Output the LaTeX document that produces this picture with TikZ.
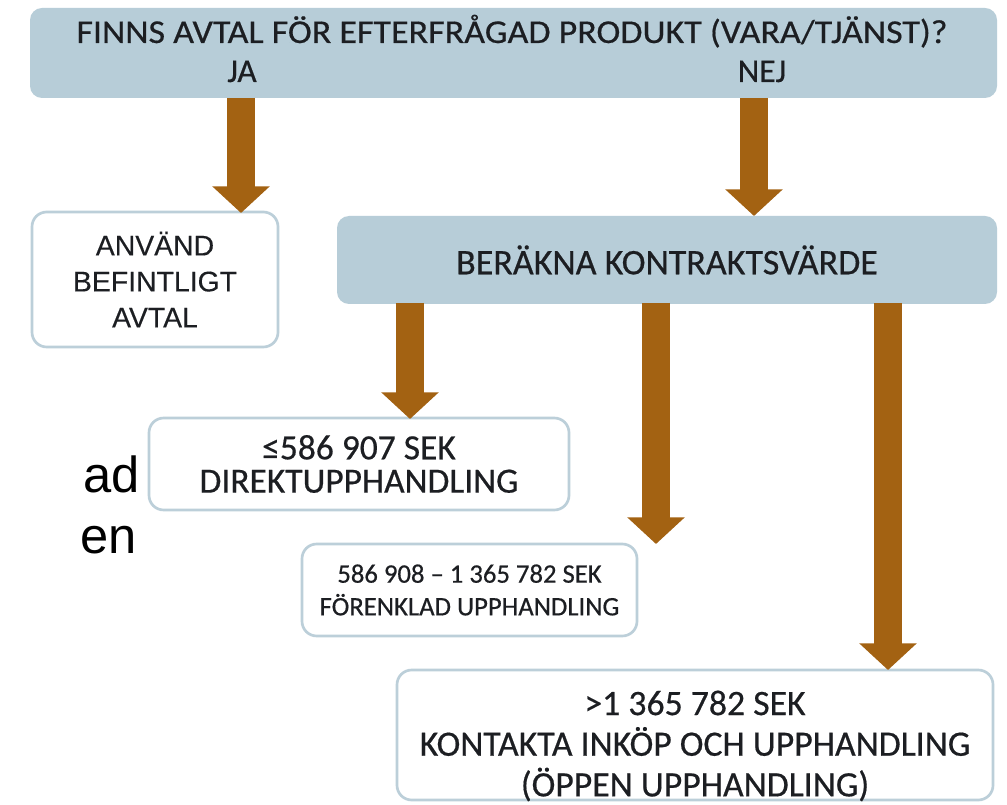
\documentclass[tikz,border=0pt]{standalone}
\usepackage{fontspec}
\setmainfont{Carlito}
\newfontfamily\calfont[FakeBold=0.5]{Carlito}
\newfontfamily\arialf[FakeBold=0.3]{Liberation Sans}
\newfontfamily\arialplain{Liberation Sans}
\usetikzlibrary{arrows.meta}
\definecolor{boxblue}{RGB}{183,205,216}
\definecolor{boxedge}{RGB}{188,207,217}
\definecolor{arrowbrown}{RGB}{163,98,18}
\definecolor{txt}{RGB}{28,30,34}
\begin{document}
\begin{tikzpicture}[x=0.75pt,y=-0.75pt,
  bluebox/.style={fill=boxblue, draw=none, rounded corners=9pt, inner sep=0pt},
  whitebox/.style={fill=white, draw=boxedge, line width=2pt, rounded corners=11pt, inner sep=0pt, align=center, text=txt},
  lbl/.style={inner sep=0pt, anchor=base, text=txt},
  boxtext/.style={inner sep=0pt, align=center, text=txt},
  bigarrow/.style={draw=arrowbrown, line width=21pt, -{Triangle[length=20pt,width=42pt]}},
]
\useasboundingbox (0,0) rectangle (1007,805);
\fill[white] (0,0) rectangle (1007,805);

% top question box
\node[bluebox, minimum width=725.25pt, minimum height=67.5pt] (q) at (513.5,53) {};
\node[lbl, font=\calfont\fontsize{25}{25}\selectfont] (qt) at (512,43) {\scalebox{1.08}[1]{FINNS AVTAL FÖR EFTERFRÅGAD PRODUKT (VARA/TJÄNST)?}};
\node[lbl, font=\calfont\fontsize{25}{25}\selectfont] (ja) at (242,82) {JA};
\node[lbl, font=\calfont\fontsize{25}{25}\selectfont] (nej) at (762,82) {NEJ};

% use existing
\node[whitebox, minimum width=184.5pt, minimum height=101.25pt,
      font=\arialf\fontsize{21.3}{27}\selectfont] (anv) at (155,279.5)
      {ANVÄND\\BEFINTLIGT\\AVTAL};

% compute contract value
\node[bluebox, minimum width=495pt, minimum height=66pt, text=txt,
      font=\calfont\fontsize{27}{27}\selectfont] (ber) at (667,260) {BERÄKNA KONTRAKTSVÄRDE};

% outcomes
\node[whitebox, minimum width=315pt, minimum height=69pt,
      font=\calfont\fontsize{26.6}{25}\selectfont] (dir) at (359,464)
      {≤586 907 SEK\\DIREKTUPPHANDLING};
\node[whitebox, minimum width=251.25pt, minimum height=69pt,
      font=\calfont\fontsize{20}{24.5}\selectfont] (for) at (469.5,590)
      {586 908 – 1 365 782 SEK\\FÖRENKLAD UPPHANDLING};
\node[whitebox, minimum width=447pt, minimum height=97.5pt] (kon) at (695,735) {};
\node[boxtext, font=\calfont\fontsize{26.8}{30.5}\selectfont] (kont) at (695,746)
      {>1 365 782 SEK\\KONTAKTA INKÖP OCH UPPHANDLING\\(ÖPPEN UPPHANDLING)};

% arrows
\coordinate (jaS) at (241,98);   \coordinate (jaE) at (241,213);
\coordinate (nejS) at (754,98);  \coordinate (nejE) at (754,216);
\coordinate (d1S) at (410,303);  \coordinate (d1E) at (410,419);
\coordinate (d2S) at (656,303);  \coordinate (d2E) at (656,544);
\coordinate (d3S) at (888,303);  \coordinate (d3E) at (888,670);
\draw[bigarrow] (jaS) -- (jaE);
\draw[bigarrow] (nejS) -- (nejE);
\draw[bigarrow] (d1S) -- (d1E);
\draw[bigarrow] (d2S) -- (d2E);
\draw[bigarrow] (d3S) -- (d3E);

% cut-off text at the left edge
\node[inner sep=0pt, anchor=base east, font=\arialplain\fontsize{38}{38}\selectfont] (ad) at (140,493) {ad};
\node[inner sep=0pt, anchor=base east, font=\arialplain\fontsize{38}{38}\selectfont] (en) at (137,553) {en};
\end{tikzpicture}
\end{document}
